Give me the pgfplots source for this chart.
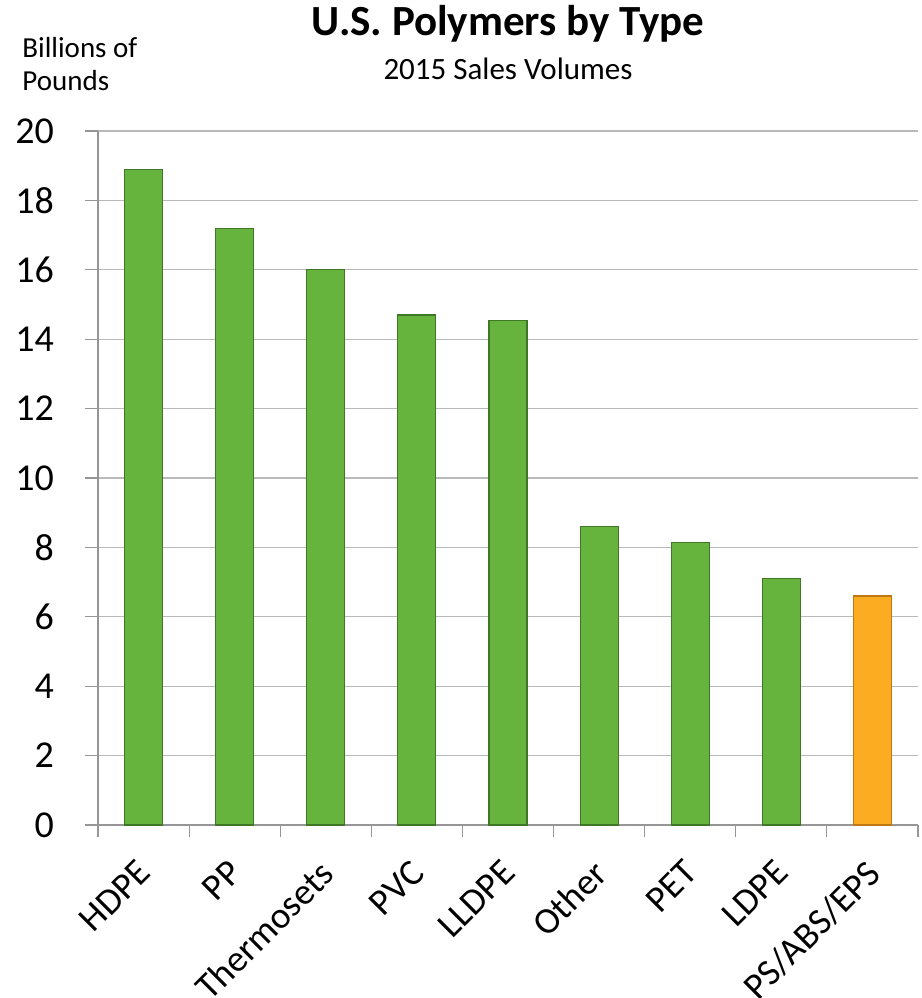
\documentclass[border=0pt]{standalone}
\usepackage{pgfplots}
\pgfplotsset{compat=1.18}
\usepackage{pgfplotstable}
\usepackage{fontspec}
\setmainfont{Carlito}
\definecolor{barg}{RGB}{102,180,62}
\definecolor{bargd}{RGB}{62,120,38}
\definecolor{baro}{RGB}{252,172,32}
\definecolor{barod}{RGB}{190,120,20}
\definecolor{gridc}{RGB}{185,185,185}
\definecolor{axc}{RGB}{150,150,150}
\pgfplotstableread{
x v
0 18.9
1 17.2
2 16.0
3 14.7
4 14.55
5 8.6
6 8.15
7 7.1
}\greendata
\pgfplotstableread{
x v
8 6.6
}\orangedata
\begin{document}
\begin{tikzpicture}[x=1pt,y=1pt]
\path[use as bounding box] (-49,-86.5) rectangle (412,412.5);
\begin{axis}[
  at={(0,0)}, anchor=south west,
  scale only axis, width=410pt, height=347pt,
  xmin=-0.5, xmax=8.5, ymin=0, ymax=20,
  axis x line*=bottom, axis y line*=left,
  axis line style={axc, line width=0.6pt},
  ytick={0,2,...,20},
  ymajorgrids, major grid style={gridc, line width=0.6pt},
  xtick={0,...,8},
  xticklabels={HDPE,PP,Thermosets,PVC,LLDPE,Other,PET,LDPE,PS/ABS/EPS},
  minor xtick={-0.5,0.5,...,8.5},
  tick align=outside,
  major tick length=6.5pt, minor tick length=6pt,
  x tick style={draw=none},
  minor x tick style={draw=axc, line width=0.6pt},
  y tick style={draw=axc, line width=0.6pt},
  /pgf/number format/assume math mode=true,
  yticklabel style={font=\fontsize{19}{21}\selectfont, xshift=-12pt},
  xticklabel style={font=\fontsize{18.5}{20}\selectfont, rotate=45, anchor=north east, inner sep=0pt, yshift=-4.2pt, xshift=-9.8pt},
  ybar, bar width=19pt, bar shift=0pt,
  clip=false,
]
\addplot[fill=barg, draw=bargd, line width=0.6pt] table[x=x,y=v]{\greendata};
\addplot[fill=baro, draw=barod, line width=0.6pt] table[x=x,y=v]{\orangedata};
\node[font=\bfseries\fontsize{21.5}{24}\selectfont, anchor=base, inner sep=0pt] at (rel axis cs:0.5,1) [yshift=48pt] {U.S. Polymers by Type};
\node[font=\fontsize{15.5}{18}\selectfont, anchor=base, inner sep=0pt] at (rel axis cs:0.5,1) [yshift=26pt] {2015 Sales Volumes};
\node[font=\fontsize{14.5}{16}\selectfont, anchor=base west, inner sep=0pt] at (rel axis cs:0,1) [xshift=-38pt, yshift=37pt] {Billions of};
\node[font=\fontsize{14.5}{16}\selectfont, anchor=base west, inner sep=0pt] at (rel axis cs:0,1) [xshift=-38pt, yshift=20.5pt] {Pounds};
\end{axis}
\end{tikzpicture}
\end{document}
